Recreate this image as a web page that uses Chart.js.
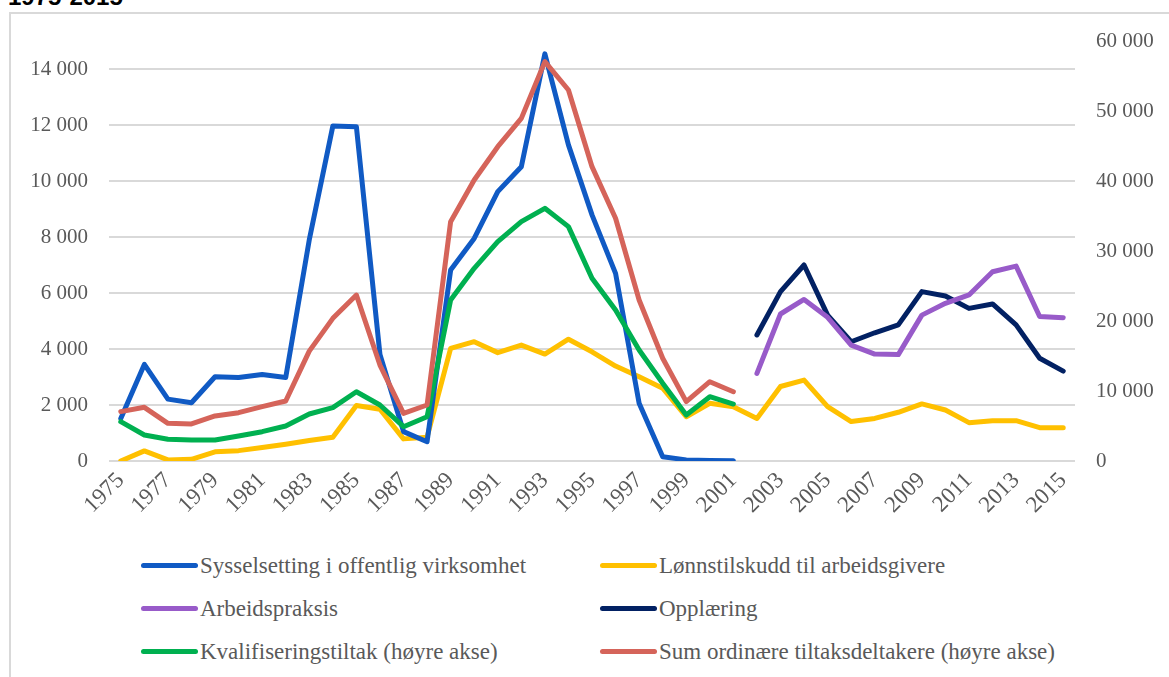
<!DOCTYPE html>
<html lang="no">
<head>
<meta charset="utf-8">
<title>Tiltaksdeltakere 1975-2015</title>
<script src="https://cdn.jsdelivr.net/npm/chart.js@4/dist/chart.umd.min.js"></script>
<style>
  html, body { margin: 0; padding: 0; background: #fff; overflow: hidden; }
  body { width: 1169px; height: 677px; position: relative; }
  .frame {
    position: absolute; left: 9px; top: 12px; width: 1200px; height: 700px;
    border: 2px solid #d9d9d9; box-sizing: border-box;
  }
  .title {
    position: absolute; left: 8px; top: -15px; margin: 0;
    font: bold 24px "Liberation Sans", Arial, sans-serif; line-height: 24px; color: #000;
  }
  .chart-box { position: absolute; left: 0; top: 0; width: 1169px; height: 540px; }
  .legend {
    position: absolute; left: 141px; top: 544px;
    display: grid; grid-template-columns: 459px auto; grid-auto-rows: 43px;
    font: 23px "Liberation Serif", "DejaVu Serif", serif; color: #595959;
  }
  .legend-item { display: flex; align-items: center; white-space: nowrap; }
  .legend-swatch { width: 57px; height: 5px; border-radius: 3px; margin-right: 2px; flex: none; }
</style>
</head>
<body>
<div class="frame"></div>
<h1 class="title">1975-2015</h1>
<div class="chart-box"><canvas id="chart"></canvas></div>
<div class="legend" id="legend"></div>

<script>
const FIRST_YEAR = 1975
const LAST_YEAR = 2015
const YEARS = []
for (let y = FIRST_YEAR; y <= LAST_YEAR; y++) YEARS.push(String(y))

// Left axis (persons), 1975-2001
const SYSSELSETTING = [
  1520, 3450, 2210, 2080, 3010, 2980, 3090, 2980, 7900, 11960,
  11940, 3800, 1050, 690, 6820, 7950, 9620, 10510, 14540, 11290,
  8790, 6700, 2060, 155, 40, 20, 10
]
// Left axis, 1975-2015
const LONNSTILSKUDD = [
  0, 360, 40, 60, 330, 370, 480, 600, 730, 850,
  1980, 1850, 790, 850, 4020, 4260, 3870, 4140, 3820, 4350,
  3900, 3390, 3010, 2600, 1580, 2060, 1940, 1520, 2660, 2890,
  1940, 1410, 1520, 1740, 2040, 1820, 1370, 1440, 1440, 1190,
  1190
]
// Left axis, 2002-2015
const ARBEIDSPRAKSIS = [
  3130, 5250, 5770, 5130, 4140, 3820, 3800, 5210, 5630, 5930,
  6760, 6960, 5160, 5120
]
const OPPLAERING = [
  4500, 6050, 7000, 5210, 4260, 4580, 4860, 6050, 5890, 5450,
  5610, 4860, 3670, 3210
]
// Right axis, 1975-2001
const KVALIFISERING = [
  5620, 3710, 3100, 3000, 3000, 3570, 4190, 5000, 6710, 7620,
  9900, 8000, 4900, 6330, 23000, 27520, 31330, 34190, 36100, 33480,
  26100, 21570, 15860, 11100, 6570, 9190, 8140
]
const SUM_ORDINAERE = [
  7050, 7670, 5380, 5290, 6430, 6900, 7760, 8570, 15700, 20380,
  23710, 13710, 6810, 8000, 34190, 40140, 44900, 48950, 57050, 53000,
  42050, 34670, 23000, 14670, 8480, 11330, 9900
]

const LEFT_TICKS = [0, 2000, 4000, 6000, 8000, 10000, 12000, 14000]

const TEXT_COLOR = "#595959"
const GRID_COLOR = "#d9d9d9"
const SERIF = "'Liberation Serif', 'DejaVu Serif', serif"
const LINE_WIDTH = 5

// Place a series that covers startYear.. onto the full year axis.
function onYears(values, startYear) {
  return YEARS.map((y) => {
    const i = Number(y) - startYear
    return i >= 0 && i < values.length ? values[i] : null
  })
}

// Norwegian thousands grouping with a plain space: "14 000"
function spaced(v) {
  return String(v).replace(/\B(?=(\d{3})+(?!\d))/g, " ")
}

function series(label, values, startYear, color, axis) {
  return {
    label,
    data: onYears(values, startYear),
    borderColor: color,
    backgroundColor: color,
    borderWidth: LINE_WIDTH,
    borderCapStyle: "round",
    borderJoinStyle: "round",
    pointRadius: 0,
    tension: 0,
    yAxisID: axis
  }
}

const datasets = [
  series("Sysselsetting i offentlig virksomhet", SYSSELSETTING, 1975, "#105ac4", "y"),
  series("Lønnstilskudd til arbeidsgivere", LONNSTILSKUDD, 1975, "#ffc000", "y"),
  series("Arbeidspraksis", ARBEIDSPRAKSIS, 2002, "#985bc9", "y"),
  series("Opplæring", OPPLAERING, 2002, "#022163", "y"),
  series("Kvalifiseringstiltak (høyre akse)", KVALIFISERING, 1975, "#00b050", "y2"),
  series("Sum ordinære tiltaksdeltakere (høyre akse)", SUM_ORDINAERE, 1975, "#d5645a", "y2")
]

// Red and green are drawn over the others
const DRAW_ORDER = [3, 4, 5, 6, 2, 1]
datasets.forEach((d, i) => { d.order = DRAW_ORDER[i] })

const chart = new Chart(document.getElementById("chart"), {
  type: "line",
  data: { labels: YEARS, datasets },
  options: {
    animation: false,
    responsive: true,
    maintainAspectRatio: false,
    layout: { padding: { top: 41, left: 0, right: 0, bottom: 0 } },
    plugins: { legend: { display: false }, tooltip: { enabled: false } },
    scales: {
      x: {
        type: "category",
        offset: true,
        grid: { display: false, drawTicks: false },
        border: { display: false },
        afterFit: (axis) => { axis.height = 79 },
        ticks: {
          autoSkip: false,
          minRotation: 45,
          maxRotation: 45,
          padding: 6,
          color: TEXT_COLOR,
          font: { family: SERIF, size: 23 },
          callback: (val, index) => (index % 2 === 0 ? YEARS[index] : "")
        }
      },
      y: {
        position: "left",
        min: 0,
        max: 15000,
        afterBuildTicks: (axis) => { axis.ticks = LEFT_TICKS.map((v) => ({ value: v })) },
        afterFit: (axis) => { axis.width = 109 },
        grid: { color: GRID_COLOR, lineWidth: 2, drawTicks: false },
        border: { display: false },
        ticks: {
          padding: 21,
          color: TEXT_COLOR,
          font: { family: SERIF, size: 21 },
          callback: (v) => spaced(v)
        }
      },
      y2: {
        position: "right",
        min: 0,
        max: 60000,
        afterFit: (axis) => { axis.width = 94 },
        grid: { display: false, drawTicks: false },
        border: { display: false },
        ticks: {
          stepSize: 10000,
          padding: 21,
          color: TEXT_COLOR,
          font: { family: SERIF, size: 21 },
          callback: (v) => spaced(v)
        }
      }
    }
  }
})

// Two-column legend built from the chart's datasets
const legendEl = document.getElementById("legend")
chart.data.datasets.forEach((d) => {
  const item = document.createElement("div")
  item.className = "legend-item"
  const swatch = document.createElement("span")
  swatch.className = "legend-swatch"
  swatch.style.background = d.borderColor
  const text = document.createElement("span")
  text.textContent = d.label
  item.append(swatch, text)
  legendEl.append(item)
})
</script>
</body>
</html>
